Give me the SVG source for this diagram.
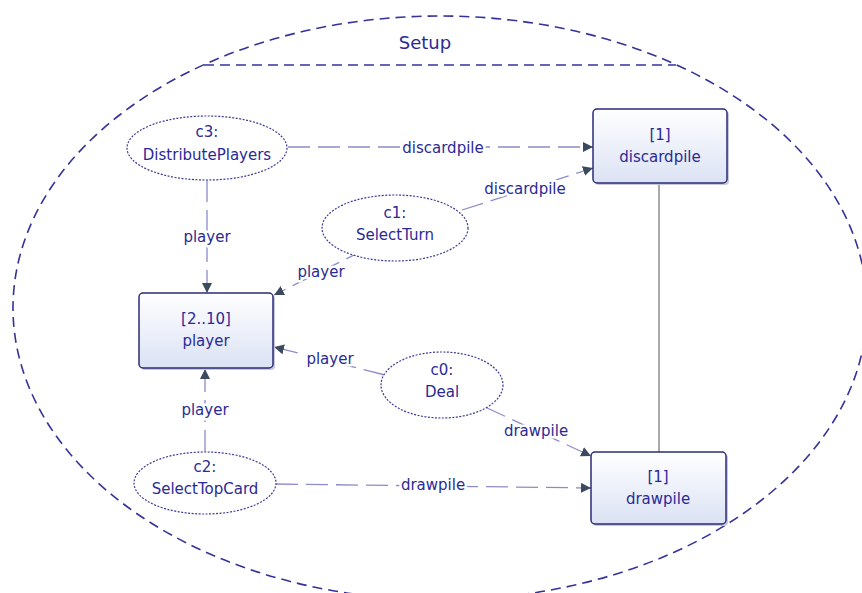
<svg xmlns="http://www.w3.org/2000/svg" width="862" height="593" viewBox="0 0 862 593">
<style>
  text { font-family: "DejaVu Sans", Verdana, sans-serif; fill: #2a2a96; text-anchor: middle; }
  .t { font-size: 15px; }
  .lbl { font-size: 15px; paint-order: stroke; stroke: #ffffff; stroke-width: 5px; stroke-linejoin: round; }
  .box { fill: url(#g); stroke: #2b2b7a; stroke-width: 1.5; }
  .shadow { fill: #c8c8d8; }
  .uc { fill: #ffffff; stroke: #3a3a9a; stroke-width: 1.2; stroke-dasharray: 2 1.5; }
  .conn { fill: none; stroke: #8c8cc8; stroke-width: 1.3; stroke-dasharray: 22 8; }
</style>
<defs>
  <linearGradient id="g" x1="0" y1="0" x2="0" y2="1">
    <stop offset="0" stop-color="#ffffff"/>
    <stop offset="1" stop-color="#dbe2f4"/>
  </linearGradient>
  <marker id="arr" viewBox="0 0 10 10" refX="10" refY="5" markerWidth="10" markerHeight="10" markerUnits="userSpaceOnUse" orient="auto">
    <path d="M0,0 L10,5 L0,10 z" fill="#3b4a5e"/>
  </marker>
</defs>
<rect width="862" height="593" fill="#ffffff"/>

<g id="setup">
  <ellipse cx="440" cy="308" rx="427" ry="292" fill="none" stroke="#33339a" stroke-width="1.6" stroke-dasharray="10 6"/>
  <line x1="204" y1="65" x2="676" y2="65" stroke="#33339a" stroke-width="1.6" stroke-dasharray="10 6"/>
  <text x="425" y="49" style="font-size:18px">Setup</text>
</g>

<g id="connectors">
  <line x1="659" y1="183" x2="659" y2="452" stroke="#555555" stroke-width="1"/>
  <line class="conn" x1="288" y1="147" x2="593" y2="147" marker-end="url(#arr)"/>
  <line class="conn" x1="207" y1="180" x2="207" y2="293" marker-end="url(#arr)"/>
  <line class="conn" x1="462" y1="210" x2="593" y2="168" marker-end="url(#arr)"/>
  <line class="conn" x1="366" y1="249" x2="274" y2="295" marker-end="url(#arr)"/>
  <line class="conn" x1="385" y1="375" x2="274" y2="347" marker-end="url(#arr)"/>
  <line class="conn" x1="485" y1="407" x2="591" y2="456" marker-end="url(#arr)"/>
  <line class="conn" x1="205" y1="452" x2="205" y2="369" marker-end="url(#arr)"/>
  <line class="conn" x1="276" y1="484" x2="591" y2="488" marker-end="url(#arr)"/>
  <text class="lbl" x="443" y="153">discardpile</text>
  <text class="lbl" x="207" y="242">player</text>
  <text class="lbl" x="525" y="194">discardpile</text>
  <text class="lbl" x="321" y="277">player</text>
  <text class="lbl" x="330" y="364">player</text>
  <text class="lbl" x="536" y="436">drawpile</text>
  <text class="lbl" x="205" y="415">player</text>
  <text class="lbl" x="433" y="490">drawpile</text>
</g>

<g id="discardpile">
  <rect class="shadow" x="595" y="111" width="134" height="74" rx="4"/>
  <rect class="box" x="593" y="109" width="134" height="74" rx="4"/>
  <text class="t" x="660" y="140">[1]</text>
  <text class="t" x="660" y="162">discardpile</text>
</g>

<g id="player">
  <rect class="shadow" x="141" y="295" width="134" height="75" rx="4"/>
  <rect class="box" x="139" y="293" width="134" height="75" rx="4"/>
  <text class="t" x="206" y="324">[2..10]</text>
  <text class="t" x="206" y="346">player</text>
</g>

<g id="drawpile">
  <rect class="shadow" x="593" y="454" width="135" height="72" rx="4"/>
  <rect class="box" x="591" y="452" width="135" height="72" rx="4"/>
  <text class="t" x="658" y="482">[1]</text>
  <text class="t" x="658" y="504">drawpile</text>
</g>

<g id="c3">
  <ellipse class="uc" cx="207" cy="148" rx="80" ry="32"/>
  <text class="t" x="207" y="137">c3:</text>
  <text class="t" x="207" y="160">DistributePlayers</text>
</g>

<g id="c1">
  <ellipse class="uc" cx="395" cy="228" rx="73" ry="33"/>
  <text class="t" x="395" y="218">c1:</text>
  <text class="t" x="395" y="240">SelectTurn</text>
</g>

<g id="c0">
  <ellipse class="uc" cx="442" cy="385" rx="61" ry="33"/>
  <text class="t" x="442" y="375">c0:</text>
  <text class="t" x="442" y="397">Deal</text>
</g>

<g id="c2">
  <ellipse class="uc" cx="205" cy="483" rx="71" ry="31"/>
  <text class="t" x="205" y="472">c2:</text>
  <text class="t" x="205" y="494">SelectTopCard</text>
</g>
</svg>
